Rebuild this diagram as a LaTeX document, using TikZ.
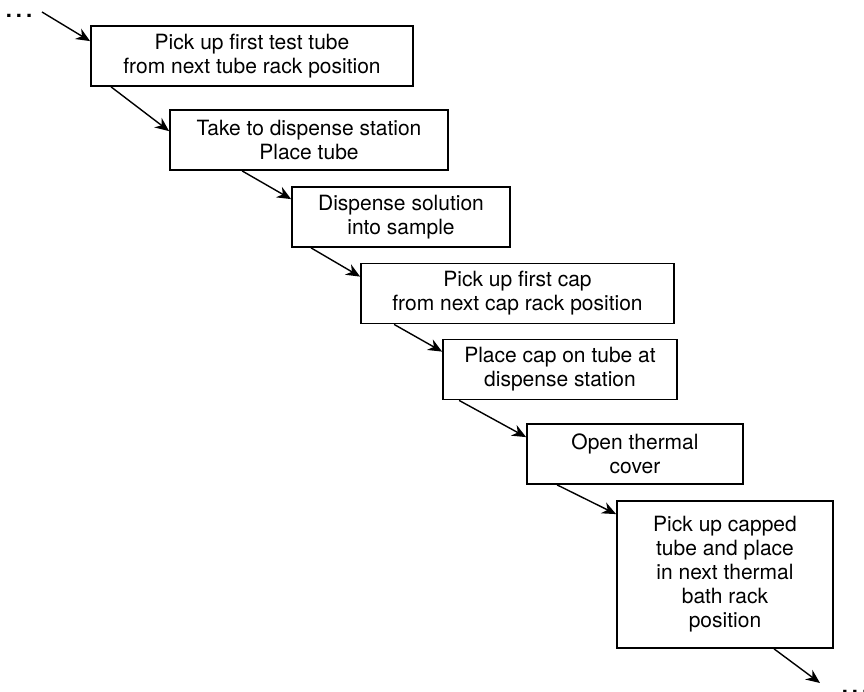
\documentclass[tikz,border=0pt]{standalone}
\usepackage{fontspec}
\setmainfont{TeX Gyre Heros}
\usetikzlibrary{arrows.meta,calc}

\begin{document}
\begin{tikzpicture}[x=0.5pt, y=-0.5pt,
  font=\fontsize{10.5}{12}\selectfont,
  stepbox/.style={draw, line width=0.9pt, align=center, inner sep=2pt, minimum height=30pt},
  flow/.style={-{Stealth[length=7pt, width=6pt]}, line width=0.7pt},
  dots/.style={font=\fontsize{11}{11}\bfseries\selectfont, inner sep=0pt, anchor=base}]
  \useasboundingbox (0,0) rectangle (864,692);
  % process steps, stepping down to the right
  \node[stepbox, minimum width=161pt] (tube) at (252,56) {Pick up first test tube\\from next tube rack position};
  \node[stepbox, minimum width=139pt] (station) at (309,140) {Take to dispense station\\Place tube};
  \node[stepbox, minimum width=109pt] (dispense) at (401,217) {Dispense solution\\into sample};
  \node[stepbox, minimum width=156.5pt] (cap) at (517.5,293.5) {Pick up first cap\\from next cap rack position};
  \node[stepbox, minimum width=117pt] (capon) at (560,369.5) {Place cap on tube at\\dispense station};
  \node[stepbox, minimum width=108pt] (cover) at (635,454) {Open thermal\\cover};
  \node[stepbox, minimum width=108pt, minimum height=73.5pt] (bath) at (725,574.5)
    {Pick up capped\\tube and place\\in next thermal\\bath rack\\position};
  % sequence continues before and after
  \node[dots] (prev) at (19,17.5) {.\kern2pt.\kern2pt.};
  \node[dots] (next) at (855,693.5) {.\kern2pt.\kern2pt.};
  \coordinate (prevend) at (42,12);
  \coordinate (nextend) at (820,683);
  \draw[flow] (prevend) -- ($(tube.north west)+(0,16)$);
  \draw[flow] ($(tube.south west)+(21,0)$) -- ($(station.north west)+(0,22)$);
  \draw[flow] ($(station.south west)+(73,0)$) -- ($(dispense.north west)+(0,13)$);
  \draw[flow] ($(dispense.south west)+(20,0)$) -- ($(cap.north west)+(0,14)$);
  \draw[flow] ($(cap.south west)+(34,0)$) -- ($(capon.north west)+(0,13)$);
  \draw[flow] ($(capon.south west)+(17,0)$) -- ($(cover.north west)+(0,14)$);
  \draw[flow] ($(cover.south west)+(31,0)$) -- ($(bath.north west)+(0,14)$);
  \draw[flow] ($(bath.south west)+(158,0)$) -- (nextend);
\end{tikzpicture}
\end{document}
